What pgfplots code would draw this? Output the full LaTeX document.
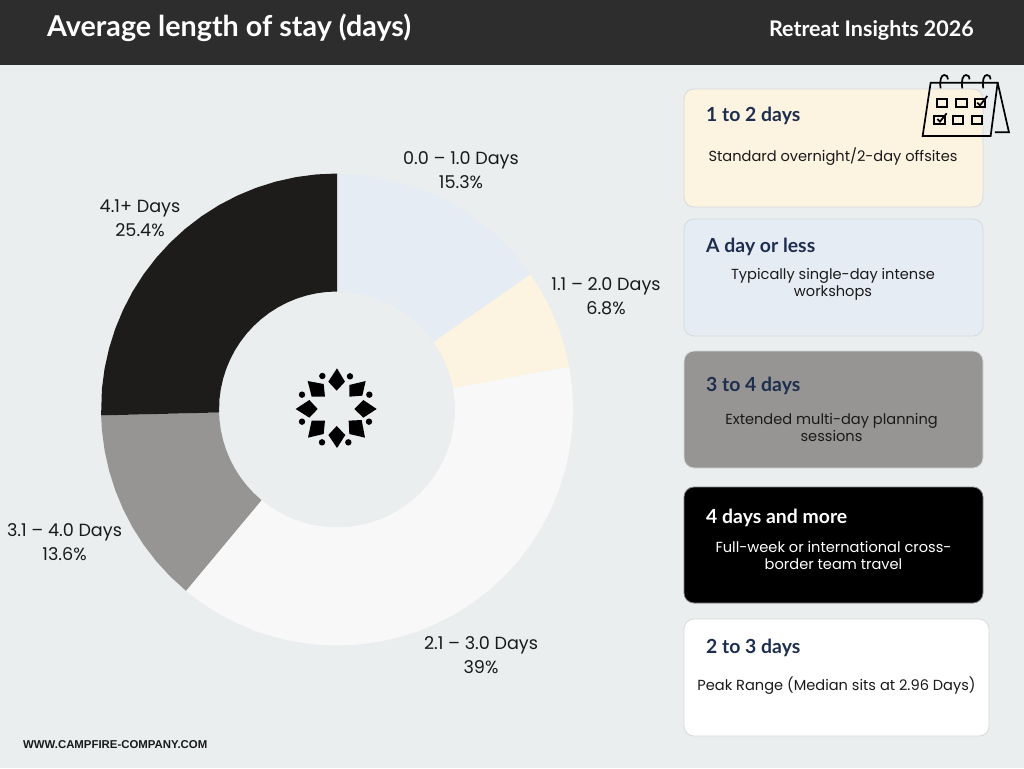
\documentclass[border=0pt]{standalone}
\usepackage{fontspec}
\setmainfont{Poppins}
\newfontfamily\hd{Lato}[BoldFont={Lato Bold}]
\newfontfamily\bd{Liberation Sans}
\usepackage{pgfplots}
\pgfplotsset{compat=1.18}
\definecolor{bgc}{HTML}{EAEEEF}
\definecolor{hdr}{HTML}{2D2D2D}
\definecolor{sa}{HTML}{E6ECF4}
\definecolor{sb}{HTML}{FCF4E1}
\definecolor{sc}{HTML}{F8F8F8}
\definecolor{sd}{HTML}{979593}
\definecolor{se}{HTML}{1E1C1A}
\definecolor{navy}{HTML}{1E2E4E}
\definecolor{bord}{HTML}{D5DADA}
\definecolor{ink}{HTML}{1A1A1A}
\newcommand{\card}[6]{% x1 y1 x2 y2 fill border
  \path[fill=#5,draw=#6,line width=0.8pt,rounded corners=10pt] (#1,#2) rectangle (#3,#4);}
\newcommand{\lab}[3]{\node[text=ink,align=center,inner sep=0pt,font=\fontsize{17.6}{24}\selectfont] at (#1,#2) {#3};}
\newcommand{\chead}[4]{\node[anchor=west,inner sep=0pt,text=#4,font=\hd\bfseries\fontsize{19.4}{20}\selectfont] at (#1,#2) {#3};}
\newcommand{\cbody}[4]{\node[align=center,inner sep=0pt,text=#4,font=\fontsize{14.6}{17}\selectfont] at (#1,#2) {#3};}
\begin{document}
\begin{tikzpicture}[x=1pt,y=-1pt]
\path[fill=bgc] (0,0) rectangle (1024,768);
\path[fill=hdr] (0,0) rectangle (1024,65);
\begin{axis}[at={(0pt,-768pt)},anchor=south west,width=1024pt,height=768pt,scale only axis,hide axis,clip=false,
  xmin=-337,xmax=687,ymin=-358.5,ymax=409.5]
% 0.0 - 1.0 days: 15.3%
\addplot[fill=sa,draw=none,data cs=polar] coordinates {
 (90,236)(85,236)(80,236)(75,236)(70,236)(65,236)(60,236)(55,236)(50,236)(45,236)(40,236)(34.92,236)
 (34.92,118)(40,118)(45,118)(50,118)(55,118)(60,118)(65,118)(70,118)(75,118)(80,118)(85,118)(90,118)};
% 1.1 - 2.0 days: 6.8%
\addplot[fill=sb,draw=none,data cs=polar] coordinates {
 (34.92,236)(30,236)(25,236)(20,236)(15,236)(10.44,236)
 (10.44,118)(15,118)(20,118)(25,118)(30,118)(34.92,118)};
% 2.1 - 3.0 days: 39%
\addplot[fill=sc,draw=none,data cs=polar] coordinates {
 (10.44,236)(5,236)(0,236)(-5,236)(-10,236)(-15,236)(-20,236)(-25,236)(-30,236)(-35,236)(-40,236)(-45,236)(-50,236)(-55,236)(-60,236)(-65,236)(-70,236)(-75,236)(-80,236)(-85,236)(-90,236)(-95,236)(-100,236)(-105,236)(-110,236)(-115,236)(-120,236)(-125,236)(-129.8,236)
 (-129.8,118)(-125,118)(-120,118)(-115,118)(-110,118)(-105,118)(-100,118)(-95,118)(-90,118)(-85,118)(-80,118)(-75,118)(-70,118)(-65,118)(-60,118)(-55,118)(-50,118)(-45,118)(-40,118)(-35,118)(-30,118)(-25,118)(-20,118)(-15,118)(-10,118)(-5,118)(0,118)(5,118)(10.44,118)};
% 3.1 - 4.0 days: 13.6%
\addplot[fill=sd,draw=none,data cs=polar] coordinates {
 (-129.8,236)(-135,236)(-140,236)(-145,236)(-150,236)(-155,236)(-160,236)(-165,236)(-170,236)(-175,236)(-178.56,236)
 (-178.56,118)(-175,118)(-170,118)(-165,118)(-160,118)(-155,118)(-150,118)(-145,118)(-140,118)(-135,118)(-129.8,118)};
% 4.1+ days: 25.4%
\addplot[fill=se,draw=none,data cs=polar] coordinates {
 (-178.56,236)(-185,236)(-190,236)(-195,236)(-200,236)(-205,236)(-210,236)(-215,236)(-220,236)(-225,236)(-230,236)(-235,236)(-240,236)(-245,236)(-250,236)(-255,236)(-260,236)(-265,236)(-270,236)
 (-270,118)(-265,118)(-260,118)(-255,118)(-250,118)(-245,118)(-240,118)(-235,118)(-230,118)(-225,118)(-220,118)(-215,118)(-210,118)(-205,118)(-200,118)(-195,118)(-190,118)(-185,118)(-178.56,118)};
\end{axis}
% header
\node[anchor=west,inner sep=0pt,text=white,font=\hd\bfseries\fontsize{28.7}{30}\selectfont] at (47,28) {Average length of stay (days)};
\node[anchor=east,inner sep=0pt,text=white,font=\hd\bfseries\fontsize{21.5}{24}\selectfont] at (974,30) {Retreat Insights 2026};
% labels
\lab{461}{170}{0.0 – 1.0 Days\\15.3\%}
\lab{606}{296}{1.1 – 2.0 Days\\6.8\%}
\lab{481}{655}{2.1 – 3.0 Days\\39\%}
\lab{64.5}{542}{3.1 – 4.0 Days\\13.6\%}
\lab{140}{218}{4.1+ Days\\25.4\%}
% cards
\card{684}{89}{983}{207}{sb}{bord}
\card{684}{219}{983}{336}{sa}{bord}
\card{684}{351}{983}{468}{sd}{bord}
\card{684}{487}{983}{603}{black}{gray}
\card{684}{619}{989}{736}{white}{bord}
\chead{706}{116}{1 to 2 days}{navy}
\chead{706}{247}{A day or less}{navy}
\chead{706}{386}{3 to 4 days}{navy}
\chead{706}{518}{4 days and more}{white}
\chead{706}{648}{2 to 3 days}{navy}
\cbody{833}{156.5}{Standard overnight/2-day offsites}{ink}
\cbody{833}{284}{Typically single-day intense\\workshops}{ink}
\cbody{831.5}{428}{Extended multi-day planning\\sessions}{ink}
\cbody{833.5}{556}{Full-week or international cross-\\border team travel}{white}
\cbody{836.5}{685.5}{Peak Range (Median sits at 2.96 Days)}{ink}
\node[anchor=west,inner sep=0pt,text=ink,font=\bd\bfseries\fontsize{11.4}{13}\selectfont] at (23,745) {WWW.CAMPFIRE-COMPANY.COM};
% logo
\begin{scope}[shift={(280,350)},x=0.3333pt,y=-0.3333pt]
\fill[black] (171,55)--(195,95)--(170,122)--(145,95)--cycle;
\fill[black] (171,294)--(196,255)--(170,228)--(145,255)--cycle;
\fill[black] (47,177)--(88,150)--(113,177)--(88,203)--cycle;
\fill[black] (290,177)--(250,150)--(223,177)--(250,203)--cycle;
\fill[black] (83,93)--(131,102)--(135,140)--(95,140)--cycle;
\fill[black] (257,93)--(208,105)--(208,140)--(247,137)--cycle;
\fill[black] (84,263)--(95,212)--(135,212)--(131,252)--cycle;
\fill[black] (255,263)--(208,252)--(206,212)--(245,210)--cycle;
\foreach \p in {(127,78),(210,79),(66,134),(268,134),(66,215),(267,215),(126,277),(205,277)}
  \fill[black] \p circle[radius=3.2pt];
\end{scope}
% calendar
\begin{scope}[shift={(680,60)},x=0.3333pt,y=-0.3333pt,line width=1.7pt,draw=black,line join=miter]
\draw (752,68)--(953,68)--(932,228)--(728,228)--cycle;
\draw (953,68)--(987,217)--(945,217);
\foreach \x in {790,855,918}{
  \draw (\x-8,85) .. controls (\x-12,60) and (\x-6,45) .. (\x+3,45) .. controls (\x+10,45) and (\x+14,50) .. (\x+14,58);
}
\begin{scope}[line width=2pt]
\draw (772,116) rectangle (802,142);
\draw (828,116) rectangle (860,142);
\draw (884,116) rectangle (915,142);
\draw (763,167) rectangle (795,192);
\draw (818,167) rectangle (850,192);
\draw (875,167) rectangle (907,192);
\end{scope}
\draw (892,128)--(900,136)--(922,108);
\draw (772,177)--(780,185)--(800,160);
\end{scope}
\end{tikzpicture}
\end{document}
